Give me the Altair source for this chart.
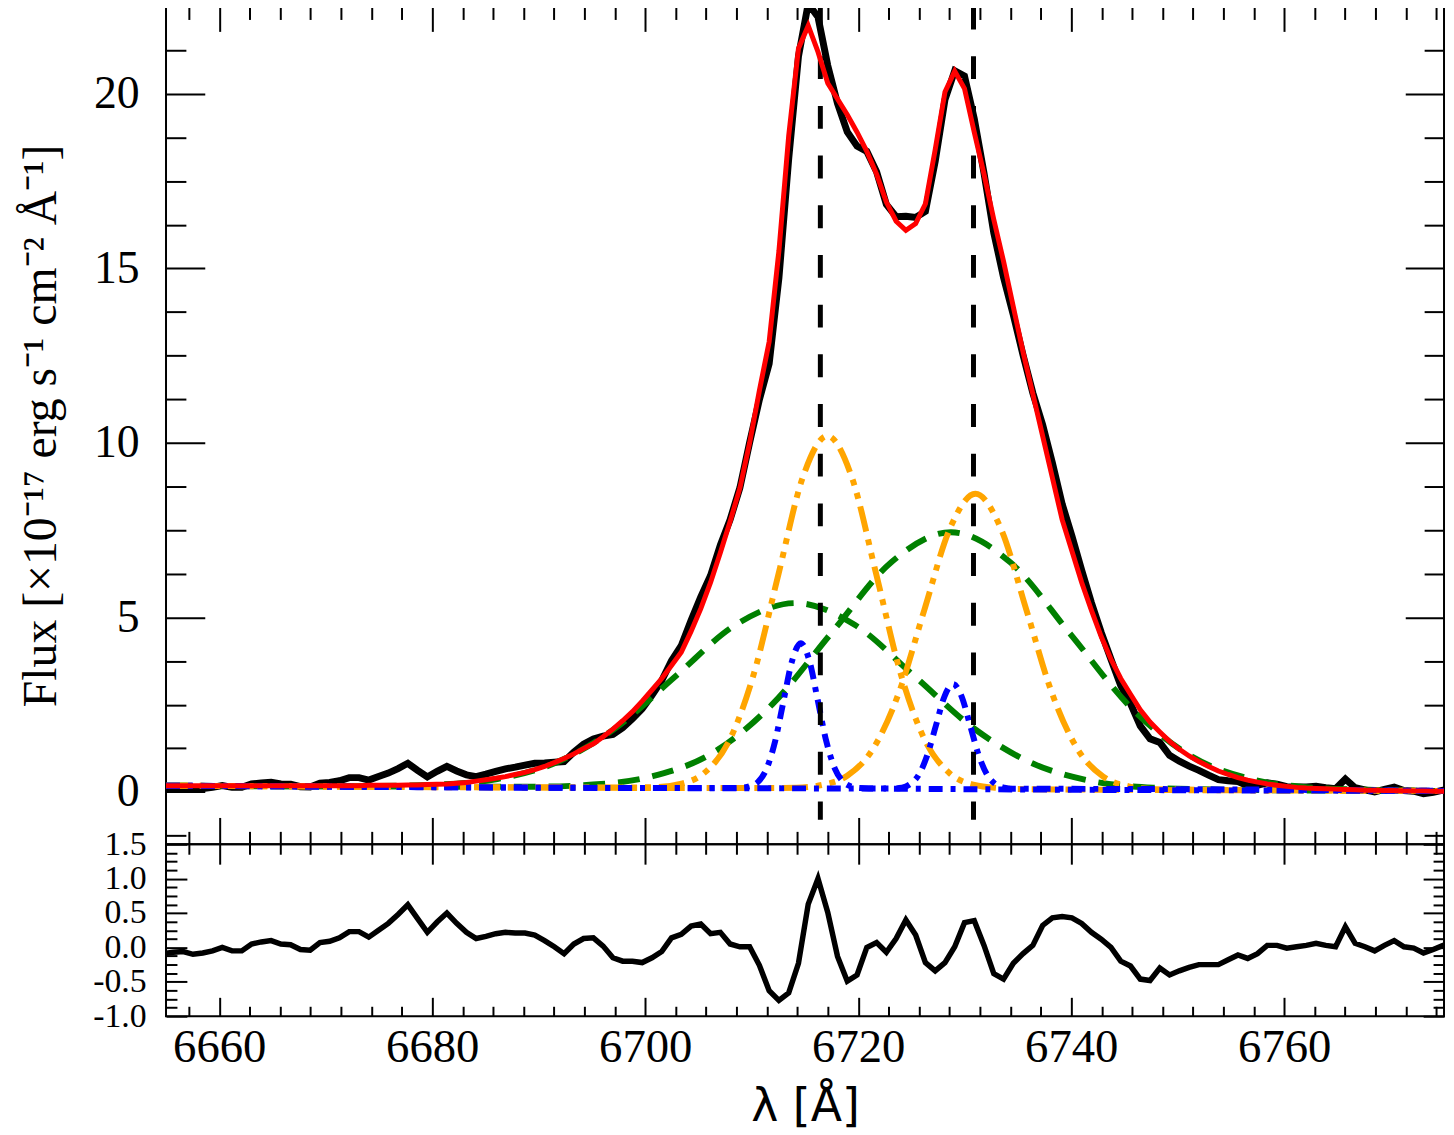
import altair as alt
import pandas as pd

# ---------------- data ----------------
WAVE_START = 6654.78
WAVE_STEP = 0.917

FLUX = [
    0.09, 0.11, 0.12, 0.08, 0.10, 0.13, 0.18, 0.13, 0.13, 0.23,
    0.26, 0.28, 0.23, 0.22, 0.15, 0.14, 0.25, 0.27, 0.32, 0.41,
    0.41, 0.34, 0.44, 0.54, 0.67, 0.82, 0.62, 0.43, 0.59, 0.73,
    0.60, 0.49, 0.44, 0.51, 0.59, 0.66, 0.71, 0.77, 0.82, 0.83,
    0.85, 0.87, 1.14, 1.37, 1.52, 1.60, 1.65, 1.84, 2.10, 2.38,
    2.77, 3.19, 3.76, 4.19, 4.91, 5.59, 6.20, 7.07, 7.80, 8.71,
    10.01, 11.24, 12.27, 14.73, 18.14, 21.07, 22.58, 22.20, 20.81, 19.72,
    18.91, 18.50, 18.35, 17.77, 16.83, 16.48, 16.49, 16.46, 16.63, 18.06,
    19.83, 20.66, 20.51, 19.29, 17.73, 16.02, 14.74, 13.67, 12.51, 11.43,
    10.52, 9.43, 8.25, 7.33, 6.35, 5.42, 4.57, 3.80, 3.05, 2.53,
    1.89, 1.52, 1.42, 1.05, 0.88, 0.74, 0.62, 0.48, 0.35, 0.32,
    0.30, 0.18, 0.19, 0.26, 0.22, 0.15, 0.14, 0.14, 0.16, 0.12,
    0.09, 0.37, 0.12, 0.06, 0.00, 0.07, 0.14, 0.04, 0.02, -0.05,
    -0.01, 0.05, 0.08,
]

FIT = [
    0.18, 0.18, 0.18, 0.18, 0.18, 0.18, 0.18, 0.18, 0.18, 0.18,
    0.18, 0.18, 0.18, 0.18, 0.18, 0.18, 0.18, 0.18, 0.18, 0.18,
    0.18, 0.19, 0.19, 0.19, 0.19, 0.20, 0.20, 0.21, 0.22, 0.23,
    0.25, 0.27, 0.31, 0.35, 0.39, 0.44, 0.50, 0.56, 0.64, 0.73,
    0.84, 0.96, 1.09, 1.24, 1.38, 1.58, 1.80, 2.04, 2.30, 2.60,
    2.92, 3.25, 3.62, 4.00, 4.60, 5.25, 6.00, 6.85, 7.75, 8.70,
    10.00, 11.50, 12.90, 15.50, 18.80, 21.30, 21.95, 21.20, 20.30, 19.85,
    19.40, 18.90, 18.35, 17.70, 16.90, 16.35, 16.09, 16.28, 16.85, 18.40,
    20.05, 20.65, 20.15, 18.90, 17.70, 16.40, 15.20, 13.90, 12.60, 11.40,
    10.20, 9.00, 7.80, 6.90, 6.00, 5.20, 4.45, 3.80, 3.25, 2.80,
    2.35, 2.00, 1.72, 1.45, 1.22, 1.03, 0.87, 0.73, 0.60, 0.50,
    0.41, 0.34, 0.28, 0.23, 0.19, 0.16, 0.13, 0.11, 0.10, 0.09,
    0.08, 0.07, 0.06, 0.05, 0.05, 0.04, 0.04, 0.03, 0.03, 0.03,
    0.02, 0.02, 0.02,
]

RESID = [
    -0.09, -0.07, -0.06, -0.10, -0.08, -0.05, 0.00, -0.05, -0.05, 0.05,
    0.08, 0.10, 0.05, 0.04, -0.03, -0.04, 0.07, 0.09, 0.14, 0.23,
    0.23, 0.15, 0.25, 0.35, 0.48, 0.62, 0.42, 0.22, 0.37, 0.50,
    0.35, 0.22, 0.13, 0.16, 0.20, 0.22, 0.21, 0.21, 0.18, 0.10,
    0.01, -0.09, 0.05, 0.13, 0.14, 0.02, -0.15, -0.20, -0.20, -0.22,
    -0.15, -0.06, 0.14, 0.19, 0.31, 0.34, 0.20, 0.22, 0.05, 0.01,
    0.01, -0.26, -0.63, -0.77, -0.66, -0.23, 0.63, 1.00, 0.51, -0.13,
    -0.49, -0.40, 0.00, 0.07, -0.07, 0.13, 0.40, 0.18, -0.22, -0.34,
    -0.22, 0.01, 0.36, 0.39, 0.03, -0.38, -0.46, -0.23, -0.09, 0.03,
    0.32, 0.43, 0.45, 0.43, 0.35, 0.22, 0.12, 0.00, -0.20, -0.27,
    -0.46, -0.48, -0.30, -0.40, -0.34, -0.29, -0.25, -0.25, -0.25, -0.18,
    -0.11, -0.16, -0.09, 0.03, 0.03, -0.01, 0.01, 0.03, 0.06, 0.03,
    0.01, 0.30, 0.06, 0.01, -0.05, 0.03, 0.10, 0.01, -0.01, -0.08,
    -0.03, 0.03, 0.06,
]

WAVE = [round(WAVE_START + i * WAVE_STEP, 3) for i in range(len(FLUX))]

# fitted components (broad: green, narrow: orange, very narrow: blue)
G1_X = [6655, 6669.3, 6674.9, 6680.5, 6686.1, 6691.7, 6697.3, 6702.9, 6708.5, 6714.1,
        6719.7, 6725.3, 6730.9, 6736.5, 6742.1, 6747.7, 6753.3, 6758.9, 6775]
G1_Y = [0.18, 0.16, 0.17, 0.21, 0.37, 0.85, 1.85, 3.33, 4.79, 5.41,
        4.78, 3.31, 1.81, 0.80, 0.30, 0.12, 0.07, 0.05, 0.03]
G2_X = [6655, 6683.9, 6689.5, 6695.1, 6700.7, 6706.3, 6711.9, 6717.5, 6723.1, 6728.7,
        6734.3, 6739.9, 6745.5, 6751.1, 6756.7, 6762.3, 6767.9, 6773.5, 6775]
G2_Y = [0.18, 0.15, 0.15, 0.21, 0.45, 1.11, 2.50, 4.56, 6.58, 7.44,
        6.57, 4.53, 2.45, 1.05, 0.38, 0.13, 0.06, 0.03, 0.03]
O1_X = [6655, 6698.7, 6701.0, 6703.3, 6705.6, 6707.9, 6710.2, 6712.5, 6714.8, 6717.1,
        6719.4, 6721.7, 6724.0, 6726.3, 6728.6, 6730.9, 6733.2, 6735.5, 6775]
O1_Y = [0.18, 0.13, 0.14, 0.23, 0.56, 1.48, 3.39, 6.23, 9.02, 10.2,
        9.01, 6.22, 3.37, 1.46, 0.53, 0.20, 0.11, 0.08, 0.03]
O2_X = [6655, 6711.8, 6714.2, 6716.6, 6719.0, 6721.4, 6723.8, 6726.2, 6728.6, 6731.0,
        6733.4, 6735.8, 6738.2, 6740.6, 6743.0, 6745.4, 6747.8, 6750.2, 6775]
O2_Y = [0.18, 0.11, 0.12, 0.20, 0.47, 1.24, 2.83, 5.21, 7.54, 8.54,
        7.54, 5.20, 2.82, 1.22, 0.44, 0.16, 0.08, 0.07, 0.03]
B1_X = [6655, 6708.2, 6709.0, 6709.8, 6710.6, 6711.4, 6712.2, 6713.0, 6713.8, 6714.6,
        6715.4, 6716.2, 6717.0, 6717.8, 6718.6, 6719.4, 6720.2, 6721.0, 6775]
B1_Y = [0.18, 0.11, 0.12, 0.16, 0.29, 0.67, 1.46, 2.63, 3.77, 4.26,
        3.77, 2.62, 1.45, 0.67, 0.29, 0.15, 0.11, 0.10, 0.03]
B2_X = [6655, 6722.5, 6723.3, 6724.1, 6724.9, 6725.7, 6726.5, 6727.3, 6728.1, 6728.9,
        6729.7, 6730.5, 6731.3, 6732.1, 6732.9, 6733.7, 6734.5, 6735.3, 6775]
B2_Y = [0.18, 0.10, 0.10, 0.12, 0.23, 0.50, 1.07, 1.91, 2.74, 3.09,
        2.74, 1.91, 1.06, 0.49, 0.22, 0.12, 0.09, 0.09, 0.03]

LINE_CENTERS = [6716.44, 6730.82]
LINE_TOP = 22.5
LINE_BOTTOM = -0.8

X_MAJOR = [6660, 6680, 6700, 6720, 6740, 6760]
X_MINOR = [round(6660 + k * 20 / 7, 4) for k in range(-1, 41) if k % 7 != 0]
Y1_MAJOR = [0, 5, 10, 15, 20]
Y1_MINOR = [k * 1.25 for k in range(-1, 18) if k % 4 != 0]
Y2_MAJOR = [-1.0, -0.5, 0.0, 0.5, 1.0, 1.5]
Y2_MINOR = [round(-1 + k * 0.125, 3) for k in range(0, 21) if k % 4 != 0]

Y_TITLE = "Flux [×10⁻¹⁷ erg s⁻¹ cm⁻² Å⁻¹]"
X_TITLE = "λ [Å]"

# ---------------- layout / style ----------------
W = 1286
H1 = 843
H2 = 173
SERIF = "Liberation Serif"

XS = alt.Scale(domain=[6655, 6775], nice=False, zero=False)
YS1 = alt.Scale(domain=[-1.5, 22.5], nice=False, zero=False)
YS2 = alt.Scale(domain=[-1.0, 1.5], nice=False, zero=False)


def tick_axis(orient, offset, values, size):
    return alt.Axis(orient=orient, offset=offset, values=values, tickSize=size,
                    tickWidth=2, tickColor="black", ticks=True, labels=False,
                    domain=False, grid=False, title=None)


y_lab_top = alt.Axis(orient="left", values=Y1_MAJOR, ticks=False, tickSize=0,
                     domain=False, grid=False, labelFont=SERIF, labelFontSize=46,
                     labelColor="black", labelPadding=27, labelOverlap=False,
                     title=Y_TITLE, titleFont=SERIF, titleFontSize=48,
                     titleFontWeight="normal", titleColor="black", titlePadding=28)

x_lab = alt.Axis(orient="bottom", values=X_MAJOR, format="d", ticks=False, tickSize=0,
                 domain=False, grid=False, labelFont=SERIF, labelFontSize=47,
                 labelColor="black", labelPadding=9, labelOverlap=False, labelFlush=False,
                 title=X_TITLE, titleFont="DejaVu Sans", titleFontSize=46,
                 titleFontWeight="normal", titleColor="black", titlePadding=14)

y_lab_bot = alt.Axis(orient="left", values=Y2_MAJOR,
                     labelExpr="(datum.value < 0 ? '-' : '') + format(abs(datum.value), '.1f')",
                     ticks=False, tickSize=0, domain=False, grid=False,
                     labelFont=SERIF, labelFontSize=34, labelColor="black",
                     labelPadding=20, labelOverlap=False, title=None)

spec_df = pd.DataFrame({"wave": WAVE, "flux": FLUX, "fit": FIT, "resid": RESID})


def comp(xs, ys, color, dash, xaxis=None, yaxis=None):
    df = pd.DataFrame({"wave": xs, "flux": ys})
    return alt.Chart(df).mark_line(
        color=color, strokeWidth=6, strokeDash=dash, interpolate="monotone",
        clip=True, strokeCap="butt"
    ).encode(
        x=alt.X("wave:Q", scale=XS, axis=xaxis),
        y=alt.Y("flux:Q", scale=YS1, axis=yaxis),
    )


data_line = alt.Chart(spec_df).mark_line(color="black", strokeWidth=7, clip=True).encode(
    x=alt.X("wave:Q", scale=XS, axis=tick_axis("bottom", -H1, X_MAJOR, 25)),
    y=alt.Y("flux:Q", scale=YS1, axis=y_lab_top),
)

GREEN = "#008000"
ORANGE = "#ffa500"
BLUE = "#0000ff"
DASH_G = [22, 13]
DASH_O = [26, 8, 6, 8, 6, 8]
DASH_B = [14, 8, 5, 8]

g1 = comp(G1_X, G1_Y, GREEN, DASH_G, tick_axis("bottom", -H1, X_MINOR, 13),
          tick_axis("right", -W, Y1_MAJOR, 39))
g2 = comp(G2_X, G2_Y, GREEN, DASH_G, tick_axis("top", -H1, X_MAJOR, 27),
          tick_axis("right", -W, Y1_MINOR, 20))
o1 = comp(O1_X, O1_Y, ORANGE, DASH_O, tick_axis("top", -H1, X_MINOR, 13),
          tick_axis("left", -W, Y1_MAJOR, 39))
o2 = comp(O2_X, O2_Y, ORANGE, DASH_O, None, tick_axis("left", -W, Y1_MINOR, 20))
b1 = comp(B1_X, B1_Y, BLUE, DASH_B)
b2 = comp(B2_X, B2_Y, BLUE, DASH_B)

vl_df = pd.DataFrame({"wave": LINE_CENTERS,
                      "top": [LINE_TOP] * len(LINE_CENTERS),
                      "bottom": [LINE_BOTTOM] * len(LINE_CENTERS)})
vlines = alt.Chart(vl_df).mark_rule(color="black", strokeWidth=5, strokeDash=[23, 27],
                                     clip=True).encode(
    x=alt.X("wave:Q", scale=XS, axis=None),
    y=alt.Y("top:Q", scale=YS1, axis=None),
    y2="bottom:Q",
)

fit_line = alt.Chart(spec_df).mark_line(color="#ff0000", strokeWidth=5, clip=True).encode(
    x=alt.X("wave:Q", scale=XS, axis=None),
    y=alt.Y("fit:Q", scale=YS1, axis=None),
)

top = alt.layer(data_line, g1, g2, o1, o2, b1, b2, vlines, fit_line).resolve_axis(
    x="independent", y="independent"
).properties(width=W, height=H1)


def resid_layer(xaxis, yaxis, visible):
    return alt.Chart(spec_df).mark_line(
        color="black", strokeWidth=5.5, clip=True, strokeOpacity=1 if visible else 0
    ).encode(
        x=alt.X("wave:Q", scale=XS, axis=xaxis),
        y=alt.Y("resid:Q", scale=YS2, axis=yaxis),
    )


bottom = alt.layer(
    resid_layer(x_lab, y_lab_bot, True),
    resid_layer(tick_axis("top", -H2, X_MAJOR, 19), tick_axis("right", -W, Y2_MAJOR, 21), False),
    resid_layer(tick_axis("top", -H2, X_MINOR, 10), tick_axis("right", -W, Y2_MINOR, 11), False),
    resid_layer(tick_axis("bottom", -H2, X_MAJOR, 20), tick_axis("left", -W, Y2_MAJOR, 21), False),
    resid_layer(tick_axis("bottom", -H2, X_MINOR, 10), tick_axis("left", -W, Y2_MINOR, 11), False),
).resolve_axis(x="independent", y="independent").properties(width=W, height=H2)

chart = alt.vconcat(top, bottom, spacing=0, bounds="flush").properties(
    padding={"left": 9, "top": -7, "right": 0, "bottom": 0}
).configure_view(stroke="black", strokeWidth=2)

chart.save("out.html", embed_options={"renderer": "svg", "actions": False})
